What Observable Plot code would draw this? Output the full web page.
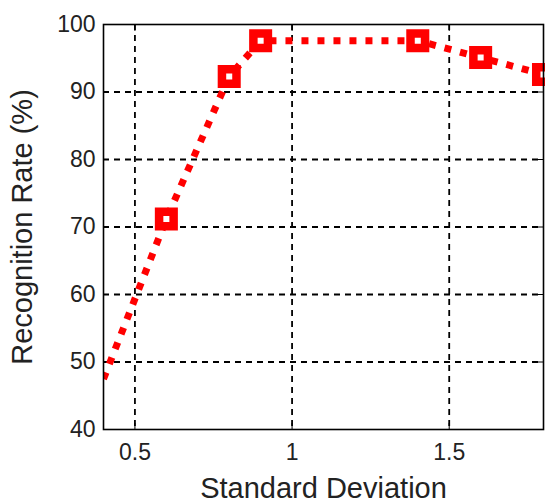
<!DOCTYPE html>
<html>
<head>
<meta charset="utf-8">
<script src="https://cdn.jsdelivr.net/npm/d3@7"></script>
<script src="https://cdn.jsdelivr.net/npm/@observablehq/plot@0.6"></script>
<style>
body { margin: 0; background: #fff; }
#chart svg { font-family: "Liberation Sans", Arial, sans-serif; }
#chart g[aria-label="x-axis label"], #chart g[aria-label="y-axis label"] { font-size: 29px; }
</style>
</head>
<body>
<div id="chart"></div>
<script>
const stdDev = [0.4, 0.6, 0.8, 0.9, 1.4, 1.6, 1.8];
const rate = [47.5, 71.2, 92.3, 97.6, 97.6, 95.1, 92.6];
const markerShown = [false, true, true, true, true, true, true];
const xTicks = [0.5, 1, 1.5];
const yTicks = [40, 50, 60, 70, 80, 90, 100];
const xLabel = "Standard Deviation";
const yLabel = "Recognition Rate (%)";

const data = stdDev.map((x, i) => ({x, y: rate[i], m: markerShown[i]}));

const chart = Plot.plot({
  width: 545,
  height: 502,
  marginLeft: 103,
  marginRight: 2,
  marginTop: 24,
  marginBottom: 73,
  style: {fontFamily: "Liberation Sans, Arial, sans-serif", color: "#222", background: "#fff"},
  x: {domain: [0.4, 1.8], ticks: xTicks},
  y: {domain: [40, 100], ticks: yTicks},
  marks: [
    Plot.gridX(xTicks, {stroke: "#000", strokeOpacity: 1, strokeWidth: 1.8, strokeDasharray: "6,5"}),
    Plot.gridY(yTicks.slice(1, -1), {stroke: "#000", strokeOpacity: 1, strokeWidth: 1.8, strokeDasharray: "6,5"}),
    Plot.axisX(xTicks, {tickSize: 0, tickPadding: 14, fontSize: 23, label: xLabel, labelAnchor: "center", labelArrow: "none", labelOffset: 68, tickFormat: d => String(d)}),
    Plot.axisY(yTicks, {tickSize: 0, tickPadding: 8, fontSize: 23, label: yLabel, labelAnchor: "center", labelArrow: "none", labelOffset: 92}),
    Plot.axisY(yTicks, {anchor: "left", tickSize: -6, text: null, label: null, stroke: "#000"}),
    Plot.axisY(yTicks, {anchor: "right", tickSize: -6, text: null, label: null, stroke: "#000"}),
    Plot.axisX(xTicks, {anchor: "top", tickSize: -6, text: null, label: null, stroke: "#000"}),
    Plot.axisX(xTicks, {anchor: "bottom", tickSize: -6, text: null, label: null, stroke: "#000"}),
    Plot.line(data, {x: "x", y: "y", stroke: "#ff0000", strokeWidth: 7, strokeDasharray: "7,9", strokeLinecap: "butt", clip: true}),
    Plot.dot(data.filter(d => d.m), {x: "x", y: "y", symbol: "square", r: 8.2, fill: "#fff", stroke: "#ff0000", strokeWidth: 8.5}),
    Plot.frame({stroke: "#000", strokeWidth: 1.6})
  ]
});
document.getElementById("chart").appendChild(chart);
</script>
</body>
</html>
